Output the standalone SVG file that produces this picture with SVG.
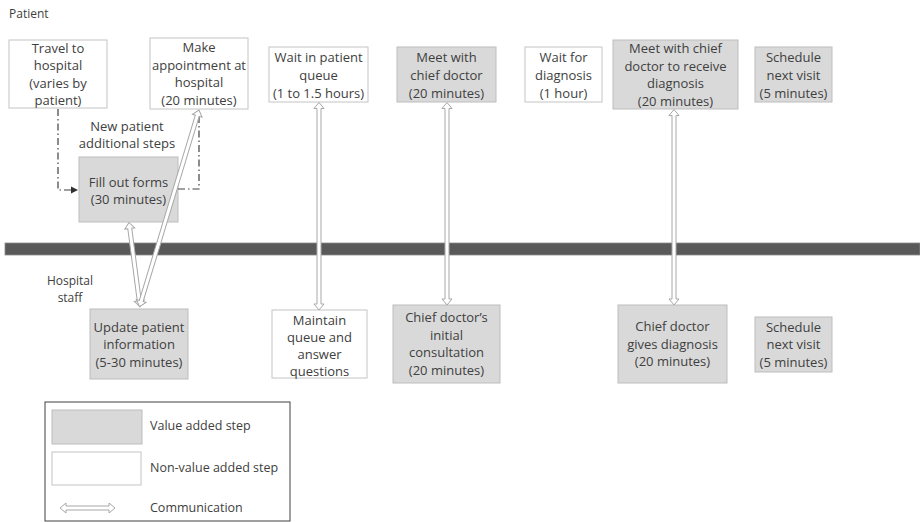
<svg xmlns="http://www.w3.org/2000/svg" width="920" height="522" viewBox="0 0 920 522">
<defs>
<style>
.t{font-family:"Open Sans","Liberation Sans",sans-serif;font-size:13px;fill:#404040;text-anchor:middle}
.lb{font-family:"Open Sans","Liberation Sans",sans-serif;font-size:12px;fill:#404040}
.lg{font-family:"Open Sans","Liberation Sans",sans-serif;font-size:12.5px;fill:#404040}
.v{fill:#d9d9d9;stroke:#bdbdbd;stroke-width:1}
.n{fill:#ffffff;stroke:#c4c4c4;stroke-width:1}
.com{fill:#ffffff;stroke:#a8a8a8;stroke-width:1;stroke-linejoin:miter}
.dd{fill:none;stroke:#404040;stroke-width:1.2;stroke-dasharray:7 3 1.5 3}
</style>
<marker id="ah" markerWidth="8" markerHeight="8" refX="7" refY="4" orient="auto" markerUnits="userSpaceOnUse">
<path d="M0,0.5 L7,4 L0,7.5 Z" fill="#303030"/>
</marker>
</defs>
<rect x="0" y="0" width="920" height="522" fill="#ffffff"/>

<text class="lb" x="9" y="18">Patient</text>
<text class="lb" x="70" y="285" text-anchor="middle">Hospital</text>
<text class="lb" x="70" y="302" text-anchor="middle">staff</text>

<!-- swimlane divider -->
<rect x="5" y="243" width="915" height="12" fill="#595959" stroke="#8a8a8a" stroke-width="0.8"/>

<g id="travel">
<rect class="n" x="9" y="40" width="98" height="68"/>
<text class="t" x="58" y="52.5">Travel to</text>
<text class="t" x="58" y="70">hospital</text>
<text class="t" x="58" y="87.5">(varies by</text>
<text class="t" x="58" y="105">patient)</text>
</g>

<g id="appointment">
<rect class="n" x="150" y="38" width="98" height="71"/>
<text class="t" x="199" y="52">Make</text>
<text class="t" x="199" y="69.5">appointment at</text>
<text class="t" x="199" y="87">hospital</text>
<text class="t" x="199" y="104.5">(20 minutes)</text>
</g>

<g id="new-patient-label">
<text class="t" x="127" y="131">New patient</text>
<text class="t" x="127" y="148">additional steps</text>
</g>

<g id="fill-forms">
<rect class="v" x="79" y="157" width="99" height="65"/>
<text class="t" x="128.5" y="186.5">Fill out forms</text>
<text class="t" x="128.5" y="203.5">(30 minutes)</text>
</g>

<g id="wait-queue">
<rect class="n" x="269" y="47" width="99" height="55"/>
<text class="t" x="318.5" y="61.5">Wait in patient</text>
<text class="t" x="318.5" y="79.5">queue</text>
<text class="t" x="318.5" y="97.5">(1 to 1.5 hours)</text>
</g>

<g id="meet-chief">
<rect class="v" x="397" y="47" width="99" height="55"/>
<text class="t" x="446.5" y="61.5">Meet with</text>
<text class="t" x="446.5" y="79.5">chief doctor</text>
<text class="t" x="446.5" y="97.5">(20 minutes)</text>
</g>

<g id="wait-diagnosis">
<rect class="n" x="525" y="47" width="77" height="55"/>
<text class="t" x="563.5" y="61.5">Wait for</text>
<text class="t" x="563.5" y="79.5">diagnosis</text>
<text class="t" x="563.5" y="97.5">(1 hour)</text>
</g>

<g id="meet-diagnosis">
<rect class="v" x="613" y="40" width="125" height="69"/>
<text class="t" x="675.5" y="53">Meet with chief</text>
<text class="t" x="675.5" y="70.5">doctor to receive</text>
<text class="t" x="675.5" y="88">diagnosis</text>
<text class="t" x="675.5" y="105.5">(20 minutes)</text>
</g>

<g id="schedule-patient">
<rect class="v" x="755" y="47" width="77" height="55"/>
<text class="t" x="793.5" y="61.5">Schedule</text>
<text class="t" x="793.5" y="79.5">next visit</text>
<text class="t" x="793.5" y="97.5">(5 minutes)</text>
</g>

<g id="update-info">
<rect class="v" x="90" y="309" width="98" height="70"/>
<text class="t" x="139" y="331.5">Update patient</text>
<text class="t" x="139" y="348.5">information</text>
<text class="t" x="139" y="366.5">(5-30 minutes)</text>
</g>

<g id="maintain-queue">
<rect class="n" x="272" y="310" width="95" height="68"/>
<text class="t" x="319.5" y="324.5">Maintain</text>
<text class="t" x="319.5" y="341.5">queue and</text>
<text class="t" x="319.5" y="358.5">answer</text>
<text class="t" x="319.5" y="375.5">questions</text>
</g>

<g id="initial-consult">
<rect class="v" x="393" y="305" width="107" height="78"/>
<text class="t" x="446.5" y="322">Chief doctor’s</text>
<text class="t" x="446.5" y="339.5">initial</text>
<text class="t" x="446.5" y="357">consultation</text>
<text class="t" x="446.5" y="374.5">(20 minutes)</text>
</g>

<g id="gives-diagnosis">
<rect class="v" x="618" y="305" width="109" height="78"/>
<text class="t" x="672.5" y="331">Chief doctor</text>
<text class="t" x="672.5" y="348.5">gives diagnosis</text>
<text class="t" x="672.5" y="366">(20 minutes)</text>
</g>

<g id="schedule-staff">
<rect class="v" x="755" y="317" width="77" height="55"/>
<text class="t" x="793.5" y="331.5">Schedule</text>
<text class="t" x="793.5" y="349">next visit</text>
<text class="t" x="793.5" y="366.5">(5 minutes)</text>
</g>

<g id="connectors">
<path class="dd" d="M58,109 L58,190 L78,190" marker-end="url(#ah)"/>
<path class="dd" d="M178,189 L199,189 L199,110"/>
<path class="com" transform="translate(319,102.5) rotate(90)" d="M0,0 L6,-5 L6,-2 L201.5,-2 L201.5,-5 L207.5,0 L201.5,5 L201.5,2 L6,2 L6,5 Z"/>
<path class="com" transform="translate(447,102.5) rotate(90)" d="M0,0 L6,-5 L6,-2 L196.5,-2 L196.5,-5 L202.5,0 L196.5,5 L196.5,2 L6,2 L6,5 Z"/>
<path class="com" transform="translate(674,109.5) rotate(90)" d="M0,0 L6,-5 L6,-2 L189.5,-2 L189.5,-5 L195.5,0 L189.5,5 L189.5,2 L6,2 L6,5 Z"/>
<path class="com" transform="translate(129,222.5) rotate(82.54)" d="M0,0 L6,-5 L6,-2 L79,-2 L79,-5 L85,0 L79,5 L79,2 L6,2 L6,5 Z"/>
<path class="com" transform="translate(199,110) rotate(106.83)" d="M0,0 L6,-5 L6,-2 L199.5,-2 L199.5,-5 L205.5,0 L199.5,5 L199.5,2 L6,2 L6,5 Z"/>
</g>

<g id="legend">
<rect x="45" y="402" width="245" height="119" fill="#ffffff" stroke="#404040" stroke-width="1"/>
<rect class="v" x="52" y="410" width="90" height="34"/>
<rect class="n" x="52" y="452" width="89" height="33"/>
<path class="com" d="M60,508 L66,503 L66,506 L109,506 L109,503 L115,508 L109,513 L109,510 L66,510 L66,513 Z"/>
<text class="lg" x="150" y="430">Value added step</text>
<text class="lg" x="150" y="472">Non-value added step</text>
<text class="lg" x="150" y="512">Communication</text>
</g>
</svg>
